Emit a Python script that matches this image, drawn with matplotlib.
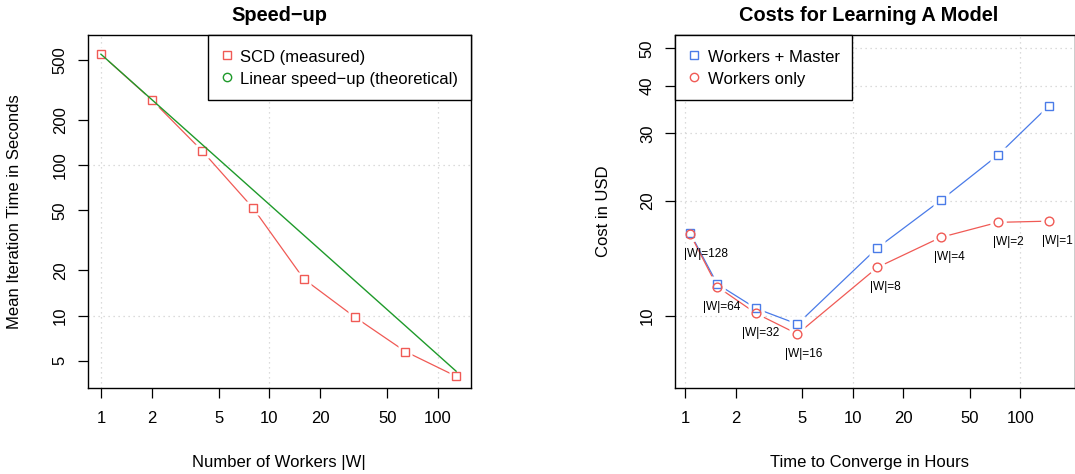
import matplotlib
matplotlib.use("Agg")
import matplotlib.pyplot as plt
from matplotlib.lines import Line2D
from matplotlib.ticker import FixedLocator, NullLocator, FixedFormatter

plt.rcParams['font.family'] = ['Liberation Sans', 'DejaVu Sans']
plt.rcParams['font.size'] = 12

# left panel: speed-up
workers = [1, 2, 4, 8, 16, 32, 64, 128]
scd_time = [547, 272, 124, 51.8, 17.5, 9.8, 5.77, 3.95]
linear_time = [547, 273.5, 136.8, 68.4, 34.2, 17.1, 8.55, 4.27]

# right panel: costs
hours = [1.067, 1.553, 2.646, 4.67, 14.0, 33.4, 73.3, 147.8]
cost_master = [16.5, 12.12, 10.47, 9.53, 15.07, 20.04, 26.3, 35.4]
cost_workers = [16.4, 11.93, 10.16, 8.98, 13.4, 16.05, 17.57, 17.70]
w_labels = ["|W|=128", "|W|=64", "|W|=32", "|W|=16", "|W|=8", "|W|=4", "|W|=2", "|W|=1"]

x_ticks = [1, 2, 5, 10, 20, 50, 100]
left_yticks = [5, 10, 20, 50, 100, 200, 500]
right_yticks = [10, 20, 30, 40, 50]
left_grid_x, left_grid_y = [1, 10, 100], [10, 100]
right_grid_x, right_grid_y = [1, 10, 100], [10, 20, 30, 40, 50]

RED = "#F05A55"
BLUE = "#4A7BE8"
GREEN = "#1E9A2A"
GRID = "#d0d0d0"

fig = plt.figure(figsize=(10.75, 4.74), dpi=100)
W, H = 1075, 474
ax1 = fig.add_axes([88 / W, 1 - 388 / H, (470.7 - 88) / W, 353 / H])
ax2 = fig.add_axes([675 / W, 1 - 388 / H, (1074.5 - 675) / W, 353 / H])


def style_axes(ax, yticks, gx, gy):
    ax.set_xscale('log')
    ax.set_yscale('log')
    for v in gx:
        ax.axvline(v, color=GRID, lw=0.9, ls=(0, (1, 3)), zorder=0)
    for v in gy:
        ax.axhline(v, color=GRID, lw=0.9, ls=(0, (1, 3)), zorder=0)
    ax.xaxis.set_major_locator(FixedLocator(x_ticks))
    ax.xaxis.set_major_formatter(FixedFormatter([str(t) for t in x_ticks]))
    ax.xaxis.set_minor_locator(NullLocator())
    ax.yaxis.set_major_locator(FixedLocator(yticks))
    ax.yaxis.set_major_formatter(FixedFormatter([str(t) for t in yticks]))
    ax.yaxis.set_minor_locator(NullLocator())
    ax.tick_params(axis='both', direction='out', length=7.5, width=0.9,
                   labelsize=12, colors='black')
    ax.tick_params(axis='x', pad=9)
    ax.tick_params(axis='y', pad=7, labelrotation=90)
    for lab in ax.get_yticklabels():
        lab.set_va('center')
    for s in ax.spines.values():
        s.set_linewidth(1.0)
        s.set_color('black')


def gapped(ax, x, y, color, marker, ms):
    ax.plot(x, y, color=color, lw=0.9, zorder=2)
    ax.plot(x, y, ls='none', marker=marker, ms=ms * 1.9, mfc='white',
            mec='none', zorder=3)


def hollow(ax, x, y, color, marker, ms):
    ax.plot(x, y, ls='none', marker=marker, ms=ms, mfc='none', mec=color,
            mew=1.0, zorder=4)


legend_kw = dict(borderaxespad=0, fancybox=False, edgecolor='black',
                 framealpha=1, fontsize=12, handlelength=0.8,
                 handletextpad=0.4, borderpad=0.75, labelspacing=0.28,
                 handleheight=1.25)

# ---- left panel
style_axes(ax1, left_yticks, left_grid_x, left_grid_y)
gapped(ax1, workers, scd_time, RED, 's', 5.6)
hollow(ax1, workers, scd_time, RED, 's', 5.6)
ax1.plot(workers, linear_time, color=GREEN, lw=1.0, zorder=5)
ax1.set_xlim(0.838, 156.3)
ax1.set_ylim(3.30, 734)
ax1.text(0.5, 1 + 14 / 353, "Speed\u2212up", transform=ax1.transAxes,
         ha='center', va='baseline', fontsize=14.4, fontweight='bold')
ax1.set_xlabel("Number of Workers |W|", fontsize=12)
ax1.xaxis.set_label_coords(0.5, -75 / 353)
ax1.xaxis.label.set_va('center')
ax1.set_ylabel("Mean Iteration Time in Seconds", fontsize=12)
ax1.yaxis.set_label_coords(-73 / 382.7, 0.5)
ax1.yaxis.label.set_va('center')

h1 = [Line2D([], [], ls='none', marker='s', ms=5.4, mfc='none', mec=RED),
      Line2D([], [], ls='none', marker='o', ms=6.0, mfc='none', mec=GREEN)]
leg1 = ax1.legend(h1, ["SCD (measured)", "Linear speed\u2212up (theoretical)"],
                  loc='upper right', **legend_kw)
leg1.get_frame().set_linewidth(1.0)
leg1.set_zorder(6)

# ---- right panel
style_axes(ax2, right_yticks, right_grid_x, right_grid_y)
gapped(ax2, hours, cost_master, BLUE, 's', 5.8)
gapped(ax2, hours, cost_workers, RED, 'o', 6.3)
hollow(ax2, hours, cost_master, BLUE, 's', 5.8)
hollow(ax2, hours, cost_workers, RED, 'o', 6.3)
label_dx = [16, 4, 5, 6, 8, 9, 11, 9]
for xv, yv, lab, dx in zip(hours, cost_workers, w_labels, label_dx):
    ax2.annotate(lab, (xv, yv), xytext=(dx, -20), textcoords='offset pixels',
                 ha='center', va='center', fontsize=8.6, annotation_clip=False,
                 zorder=5)
ax2.set_xlim(0.868, 210.3)
ax2.set_ylim(6.49, 54.2)
xc = (869 - 675) / 399.5
ax2.text(xc, 1 + 14 / 353, "Costs for Learning A Model", transform=ax2.transAxes,
         ha='center', va='baseline', fontsize=14.4, fontweight='bold')
ax2.set_xlabel("Time to Converge in Hours", fontsize=12)
ax2.xaxis.set_label_coords(xc, -75 / 353)
ax2.xaxis.label.set_va('center')
ax2.set_ylabel("Cost in USD", fontsize=12)
ax2.yaxis.set_label_coords(-71.7 / 399.5, 0.5)
ax2.yaxis.label.set_va('center')

h2 = [Line2D([], [], ls='none', marker='s', ms=5.4, mfc='none', mec=BLUE),
      Line2D([], [], ls='none', marker='o', ms=6.0, mfc='none', mec=RED)]
leg2 = ax2.legend(h2, ["Workers + Master", "Workers only"],
                  loc='upper left', **legend_kw)
leg2.get_frame().set_linewidth(1.0)
leg2.set_zorder(6)

fig.savefig("out.png", dpi=100)
